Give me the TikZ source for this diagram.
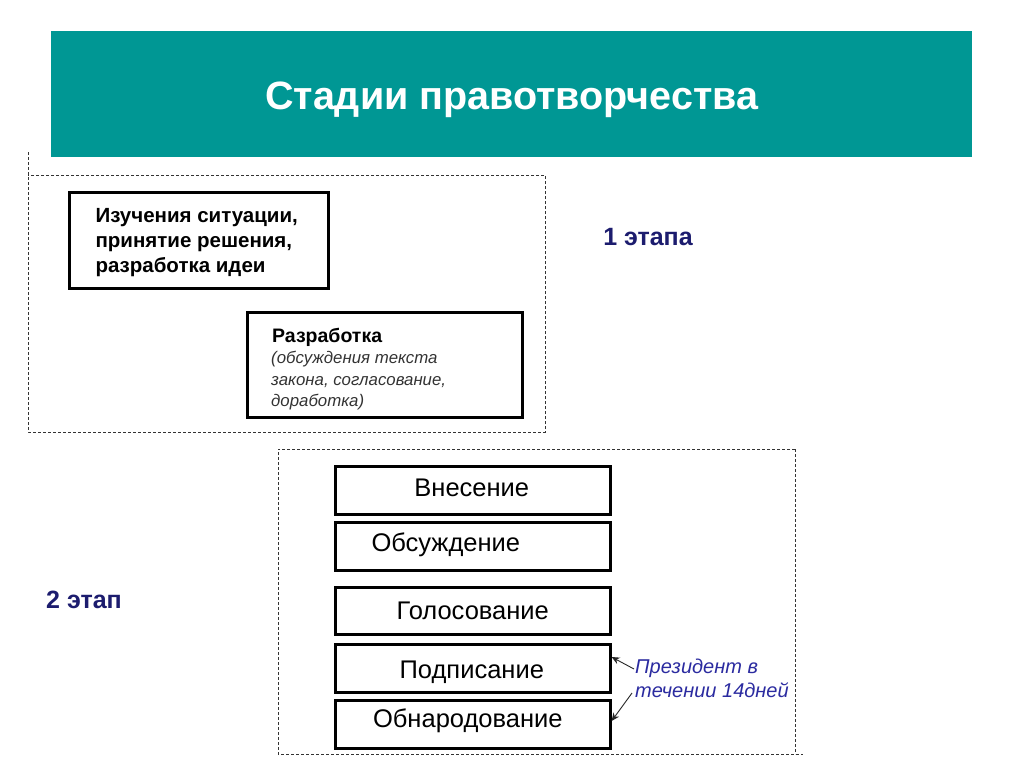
\documentclass[tikz,border=0pt]{standalone}
\usepackage{fontspec}
\setmainfont{Liberation Sans}
\usetikzlibrary{arrows.meta}
\definecolor{teal1}{HTML}{009794}
\definecolor{navy1}{HTML}{1C1C6E}
\definecolor{blue1}{HTML}{2B2BA0}
\definecolor{gray1}{HTML}{333333}
\begin{document}
\begin{tikzpicture}[x=1pt,y=-1pt,
  stagebox/.style={draw=black,line width=2.6pt,fill=white,inner sep=0pt},
  dashbox/.style={draw=black!80,line width=0.8pt,dash pattern=on 3pt off 2pt},
  steplbl/.style={font=\fontsize{25.5}{29}\selectfont,text=black},
  etap/.style={font=\bfseries\fontsize{25}{29}\selectfont,text=navy1},
  presarrow/.style={draw=black!85,line width=0.9pt,-{Stealth[length=8pt,width=7pt]}}
]
\useasboundingbox (0,0) rectangle (1024,768);
\fill[white] (0,0) rectangle (1024,768);
% title banner
\node[fill=teal1,minimum width=921pt,minimum height=126pt,inner sep=0pt,anchor=north west,
  label={[font=\bfseries\fontsize{39.5}{44}\selectfont,text=white,yshift=-6pt]center:Стадии правотворчества}]
  (title) at (51,31) {};
% stage 1 dashed frame
\coordinate (f1a) at (28,152);
\coordinate (f1b) at (28,432);
\coordinate (f1c) at (545,432);
\coordinate (f1d) at (545,175);
\coordinate (f1e) at (28,175);
\draw[dashbox] (f1a) -- (f1b) -- (f1c) -- (f1d) -- (f1e);
% stage 2 dashed frame
\coordinate (f2a) at (278,449);
\coordinate (f2b) at (278,754);
\coordinate (f2c) at (803,754);
\coordinate (f2d) at (795,754);
\coordinate (f2e) at (795,449);
\draw[dashbox] (f2e) -- (f2a) -- (f2b) -- (f2c);
\draw[dashbox] (f2e) -- (f2d);
% stage 1 boxes
\node[stagebox,minimum width=259pt,minimum height=96pt,anchor=north west] (ideas) at (68,191) {};
\node[anchor=west,align=left,font=\bfseries\fontsize{20.5}{25}\selectfont] (ideastxt) at (92,243)
  {Изучения ситуации,\\принятие решения,\\разработка идеи};
\node[stagebox,minimum width=275pt,minimum height=105pt,anchor=north west] (draft) at (246,311) {};
\node[anchor=west,inner sep=0pt,font=\bfseries\fontsize{19.5}{23}\selectfont] (drafthead) at (272,337) {Разработка};
\node[anchor=north west,align=left,inner sep=0pt,text=gray1,font=\itshape\fontsize{16.8}{21.5}\selectfont]
  (drafttxt) at (271,351) {(обсуждения текста\\закона, согласование,\\доработка)};
\node[etap] (et1) at (648,237) {1 этапа};
\node[etap] (et2) at (84,600) {2 этап};
% stage 2 boxes
\node[stagebox,minimum width=275pt,minimum height=48pt,anchor=north west,
  label={[steplbl,xshift=-1pt,yshift=2pt]center:Внесение}] (s1) at (334,465) {};
\node[stagebox,minimum width=275pt,minimum height=48pt,anchor=north west,
  label={[steplbl,xshift=-27pt,yshift=2pt]center:Обсуждение}] (s2) at (334,521) {};
\node[stagebox,minimum width=275pt,minimum height=47pt,anchor=north west,
  label={[steplbl,xshift=0pt,yshift=0pt]center:Голосование}] (s3) at (334,586) {};
\node[stagebox,minimum width=275pt,minimum height=48pt,anchor=north west,
  label={[steplbl,xshift=-1pt,yshift=-4pt]center:Подписание}] (s4) at (334,643) {};
\node[stagebox,minimum width=275pt,minimum height=48pt,anchor=north west,
  label={[steplbl,xshift=-5pt,yshift=4pt]center:Обнародование}] (s5) at (334,699) {};
% president note
\node[anchor=west,align=left,inner sep=0pt,text=blue1,
  font=\itshape\fontsize{20}{24}\selectfont] (pres) at (635,678) {Президент в\\течении 14дней};
\coordinate (pa) at (634,669);
\coordinate (pb) at (632,693);
\draw[presarrow] (pa) -- (s4.east |- 0,657);
\draw[presarrow] (pb) -- (s5.east |- 0,721);
\end{tikzpicture}
\end{document}
